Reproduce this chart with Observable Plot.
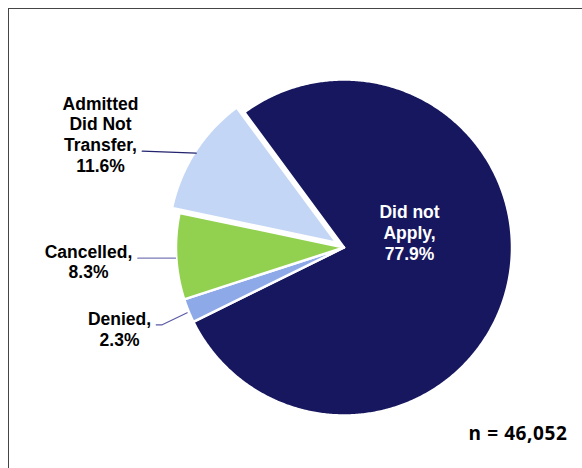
<!DOCTYPE html>
<html>
<head>
<meta charset="utf-8">
<script src="https://cdn.jsdelivr.net/npm/d3@7"></script>
<script src="https://cdn.jsdelivr.net/npm/@observablehq/plot@0.6"></script>
<style>
  html, body { margin: 0; padding: 0; background: #fff; }
  #wrap { position: relative; width: 582px; height: 468px; overflow: hidden; }
  #border { position: absolute; left: 8px; top: 8px; width: 700px; height: 600px;
            border-left: 1.5px solid #454545; border-top: 1.5px solid #454545; }
  #chart { position: absolute; left: 0; top: 0; }
</style>
</head>
<body>
<div id="wrap"><div id="border"></div><div id="chart"></div></div>
<script>
// ---- data ----
const categories = ["Did not Apply", "Denied", "Cancelled", "Admitted Did Not Transfer"];
const shares = [77.9, 2.3, 8.3, 11.6];
const labelNames = ["Did not\nApply", "Denied", "Cancelled", "Admitted\nDid Not\nTransfer"];
const sampleNote = "n = 46,052";

// ---- styling / layout ----
const colors = ["#17175f", "#8ea9e8", "#92d050", "#c4d6f5"];
const W = 582, H = 468;
const cx = 343.5, cy = 247, R = 168;
const startDeg = -36.4;
const explode = { "Admitted Did Not Transfer": 9 };
const labelPos = {
  "Did not Apply": { x: 409, y: 232, color: "#ffffff" },
  "Denied": { x: 119, y: 328.5, color: "#000000" },
  "Cancelled": { x: 88, y: 261, color: "#000000" },
  "Admitted Did Not Transfer": { x: 100, y: 133.6, color: "#000000" }
};
const leaders = {
  "Admitted Did Not Transfer": { pts: [[141.7, 150.7], [195.7, 152.7]], color: "#23236e" },
  "Cancelled": { pts: [[137.3, 257.7], [175, 257.7]], color: "#7a7ab8" },
  "Denied": { pts: [[155.7, 324.3], [161.7, 324.3], [186.7, 312.3]], color: "#5a5aa8" }
};

// ---- geometry from data ----
const arcs = d3.pie().sort(null).startAngle(startDeg * Math.PI / 180)
  .endAngle(startDeg * Math.PI / 180 + 2 * Math.PI)(shares);

const slices = arcs.map((a, i) => {
  const name = categories[i];
  const mid = (a.startAngle + a.endAngle) / 2;
  const off = explode[name] || 0;
  const ox = cx + off * Math.sin(mid), oy = cy - off * Math.cos(mid);
  const ring = [[ox, oy]];
  const n = Math.max(4, Math.ceil((a.endAngle - a.startAngle) / (Math.PI / 360)));
  for (let k = 0; k <= n; k++) {
    const t = a.startAngle + (a.endAngle - a.startAngle) * k / n;
    ring.push([ox + R * Math.sin(t), oy - R * Math.cos(t)]);
  }
  ring.push([ox, oy]);
  return { type: "Feature", properties: { name }, geometry: { type: "Polygon", coordinates: [ring] } };
});

const labels = categories.map((c, i) => ({
  name: c,
  text: labelNames[i] + ",\n" + shares[i].toFixed(1) + "%",
  ...labelPos[c]
}));

const leaderRows = [];
for (const c of Object.keys(leaders)) {
  for (const p of leaders[c].pts) leaderRows.push({ name: c, x: p[0], y: p[1], color: leaders[c].color });
}

const chart = Plot.plot({
  width: W,
  height: H,
  margin: 0,
  projection: { type: "identity", domain: { type: "MultiPoint", coordinates: [[0, 0], [W, H]] } },
  color: { domain: categories, range: colors },
  style: { fontFamily: "'Liberation Sans', Arial, sans-serif", background: "transparent" },
  marks: [
    Plot.geo(slices, { fill: d => d.properties.name, stroke: "#ffffff", strokeWidth: 2.5 }),
    Plot.line(leaderRows, { x: "x", y: "y", z: "name", stroke: "color", strokeWidth: 1.2 }),
    Plot.text(labels, {
      x: "x", y: "y", text: "text", fill: "color",
      fontSize: 17.5, fontWeight: "bold", lineHeight: 1.18, lineAnchor: "middle", textAnchor: "middle"
    }),
    Plot.text([sampleNote], {
      x: () => 567, y: () => 433, text: d => d, fill: "#000",
      fontSize: 19, fontWeight: "bold", fontFamily: "'Open Sans', 'Liberation Sans', sans-serif",
      textAnchor: "end", lineAnchor: "middle"
    })
  ]
});
d3.select(chart).selectAll("text").filter(function () { return this.textContent === sampleNote; })
  .attr("letter-spacing", "0.6px");
document.getElementById("chart").appendChild(chart);
</script>
</body>
</html>
